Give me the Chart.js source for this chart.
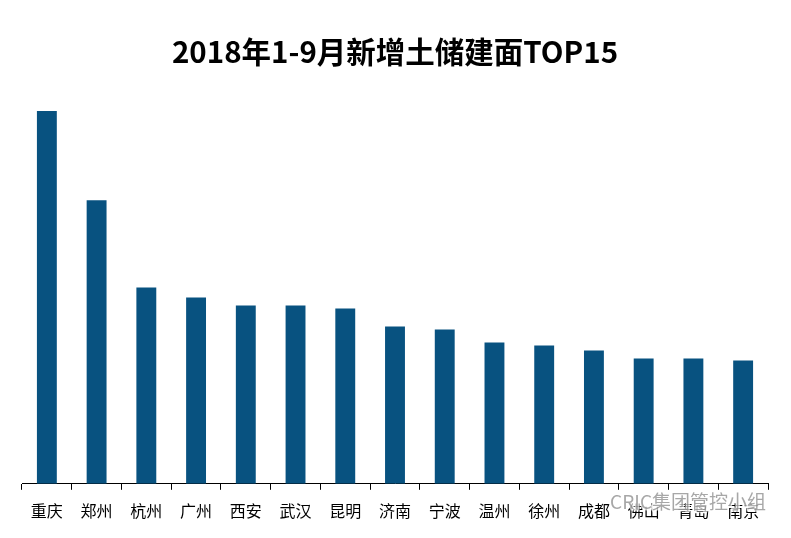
<!DOCTYPE html>
<html>
<head>
<meta charset="utf-8">
<script src="https://cdn.jsdelivr.net/npm/chart.js@4"></script>
<style>
	html, body { margin: 0; padding: 0; background: #fff; }
	#wrap { width: 791px; height: 538px; }
</style>
</head>
<body>
<div id="wrap"><canvas id="land-chart"></canvas></div>
<script>

// cities, top 15 by newly added land area (Jan-Sep 2018)
const cities = ['重庆', '郑州', '杭州', '广州', '西安', '武汉', '昆明', '济南', '宁波', '温州', '徐州', '成都', '佛山', '青岛', '南京'];
// bar heights (no axis is shown, relative units)
const areaValues = [372, 283, 196, 186, 178, 178, 175, 157, 154, 141, 138, 133, 125, 125, 123];
const titleText = '2018年1-9月新增土储建面TOP15';
const watermarkText = 'CRIC集团管控小组';

const cjk_font = '"Noto Sans CJK SC", "Microsoft YaHei", sans-serif';

// faint watermark in the bottom right corner
const watermark_plugin = {
	id: 'watermark',
	afterDraw(chart) {
		const ctx = chart.ctx;
		ctx.save();
		ctx.font = '19px ' + cjk_font;
		ctx.textAlign = 'right';
		ctx.textBaseline = 'middle';
		ctx.lineWidth = 3;
		ctx.strokeStyle = 'rgba(255,255,255,0.7)';
		ctx.strokeText(watermarkText, 766, 502);
		ctx.fillStyle = 'rgba(130,130,130,0.7)';
		ctx.fillText(watermarkText, 766, 502);
		ctx.restore();
	}
};

const land_ctx = document.getElementById('land-chart');

new Chart(land_ctx, {
	type: 'bar',
	data: {
		labels: cities,
		datasets: [{
			data: areaValues,
			backgroundColor: '#085280',
			categoryPercentage: 0.4,
			barPercentage: 1
		}]
	},
	options: {
		responsive: true,
		maintainAspectRatio: false,
		animation: false,
		layout: {
			padding: { left: 22, right: 23, top: 0, bottom: 5 }
		},
		plugins: {
			legend: { display: false },
			tooltip: { enabled: false },
			title: {
				display: true,
				text: titleText,
				color: '#000',
				font: { family: cjk_font, size: 29.5, weight: 'bold', lineHeight: 1.2 },
				padding: { top: 34, bottom: 13.6 }
			}
		},
		scales: {
			x: {
				grid: {
					display: true,
					drawOnChartArea: false,
					drawTicks: true,
					tickLength: 6,
					color: '#000',
					offset: true
				},
				border: { display: true, color: '#000', width: 1 },
				ticks: {
					color: '#000',
					padding: 12,
					maxRotation: 0,
					autoSkip: false,
					font: { family: cjk_font, size: 16 }
				}
			},
			y: {
				display: false,
				min: 0,
				max: 400
			}
		}
	},
	plugins: [watermark_plugin]
});
</script>
</body>
</html>
